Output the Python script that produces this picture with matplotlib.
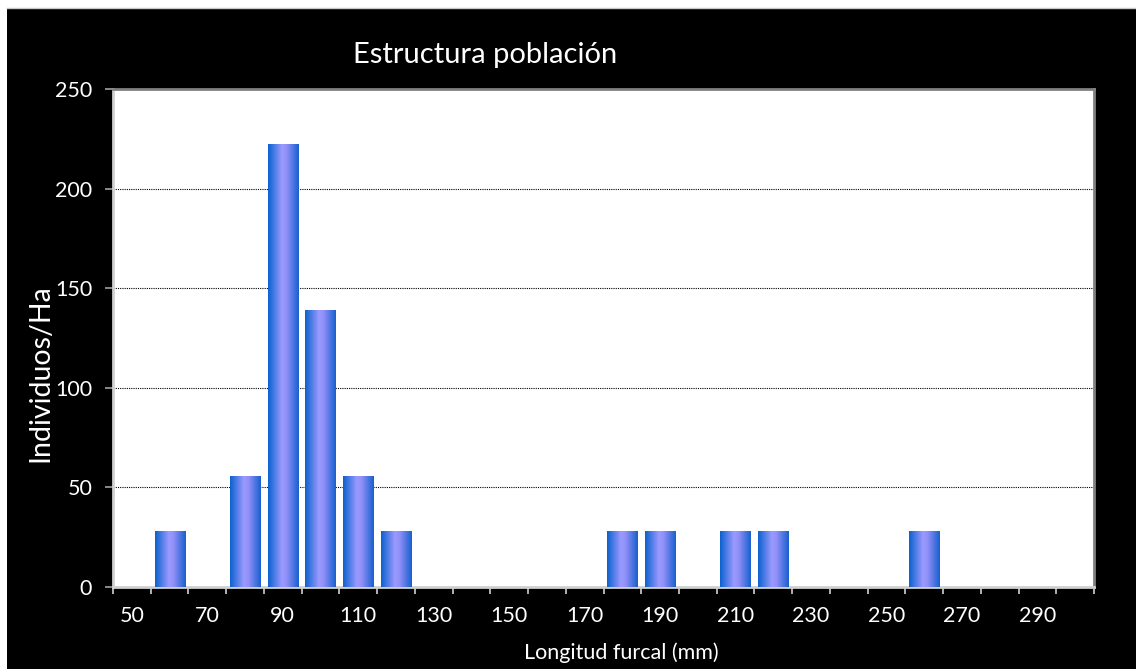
import numpy as np
import matplotlib
matplotlib.use("Agg")
import matplotlib.pyplot as plt
from matplotlib.patches import Rectangle
from matplotlib.colors import LinearSegmentedColormap

# longitud furcal (mm), clases de 10 mm
clases = list(range(50, 310, 10))
# individuos/Ha por clase (1 individuo = 27.8 ind/Ha)
valores = [0, 27.8, 0, 55.6, 222.2, 138.9, 55.6, 27.8, 0, 0,
           0, 0, 0, 27.8, 27.8, 0, 27.8, 27.8, 0, 0,
           0, 27.8, 0, 0, 0, 0]
etiquetas_x = [str(c) for c in clases[::2]]
yticks = [0, 50, 100, 150, 200, 250]

plt.rcParams['font.family'] = ['Lato', 'DejaVu Sans']

W, H = 1136, 669
fig = plt.figure(figsize=(W/100, H/100), dpi=100, facecolor='white')
fig.patches.append(Rectangle((7/W, -0.01), 1.01, (H-8)/H + 0.01, transform=fig.transFigure,
                             facecolor='black', edgecolor='none', zorder=-10))
# linea gris fina en el borde superior del fondo negro
fig.add_artist(plt.Line2D([7/W, 1], [(H-8)/H, (H-8)/H], transform=fig.transFigure,
                          color='#c8c8c8', lw=1))

ax = fig.add_axes([113/W, (H-587)/H, 981/W, 498/H])
ax.set_facecolor('white')

x = np.arange(len(clases))
bars = ax.bar(x, valores, width=0.8, color='none', edgecolor='none', zorder=3)

# degradado horizontal en cada barra
cmap = LinearSegmentedColormap.from_list('barra', [(0, '#0a62cf'), (0.45, '#9a9aff'),
                                                   (0.6, '#9090f8'), (1, '#1760cf')])
grad = np.linspace(0, 1, 200).reshape(1, -1)
for b in bars:
    h = b.get_height()
    if h <= 0:
        continue
    x0 = b.get_x()
    ax.imshow(grad, extent=[x0, x0 + b.get_width(), 0, h], aspect='auto',
              cmap=cmap, zorder=3, interpolation='bilinear')

ax.set_xlim(-0.5, len(clases) - 0.5)
ax.set_ylim(0, 250)

ax.set_yticks(yticks)
ax.set_yticklabels([str(v) for v in yticks])
for v in yticks[1:-1]:
    ax.axhline(v, color='black', lw=0.8, ls=(0, (1, 1)), zorder=1)

ax.set_xticks(x[::2])
ax.set_xticklabels(etiquetas_x)
ax.set_xticks(np.arange(-0.5, len(clases)), minor=True)
ax.tick_params(axis='x', which='major', length=0, pad=14, labelsize=15.5, labelcolor='white')
ax.tick_params(axis='x', which='minor', length=5, width=1.2, color='#d0d0d0', direction='out')
ax.tick_params(axis='y', length=6, width=1.2, color='#a0a0a0', pad=9, labelsize=15.5,
               labelcolor='white')

for s in ['top', 'right']:
    ax.spines[s].set_color('#808080')
    ax.spines[s].set_linewidth(2)
for s in ['left', 'bottom']:
    ax.spines[s].set_color('#d0d0d0')
    ax.spines[s].set_linewidth(2)

fig.text(485/W, 1 - 55/H, 'Estructura población', color='white', fontsize=21,
         ha='center', va='center')
fig.text(40/W, 1 - 373/H, 'Individuos/Ha', color='white', fontsize=20.5,
         rotation=90, ha='center', va='center')
fig.text(621/W, 1 - 653/H, 'Longitud furcal (mm)', color='white', fontsize=15.5,
         ha='center', va='center')

fig.savefig('out.png', dpi=100, facecolor=fig.get_facecolor())
